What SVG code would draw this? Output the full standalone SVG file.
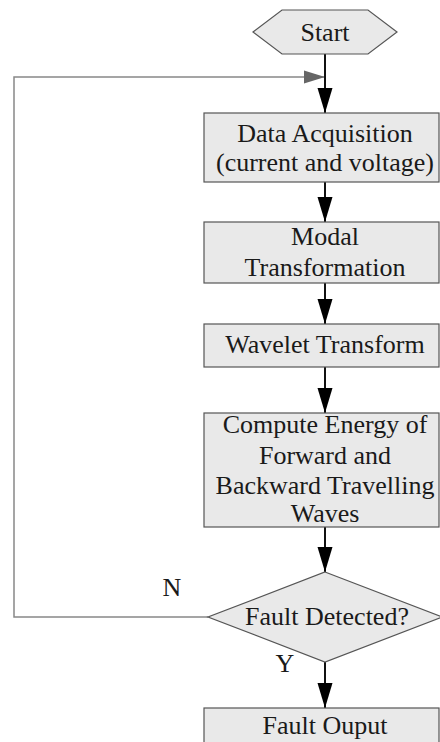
<svg xmlns="http://www.w3.org/2000/svg" width="440" height="742" viewBox="0 0 440 742">
<style>
.box{fill:#e9e9e9;stroke:#555;stroke-width:1.2}
.t{font-family:"Liberation Serif","Times New Roman",serif;font-size:26px;fill:#1a1a1a;text-anchor:middle}
.flow{stroke:#111;stroke-width:2;fill:none}
.arr{marker-end:url(#ah)}
.fb{stroke:#888;stroke-width:1.5;fill:none;marker-end:url(#ahg)}
</style>
<defs>
<marker id="ah" markerUnits="userSpaceOnUse" markerWidth="25" markerHeight="16" refX="25" refY="7.5" orient="auto" viewBox="0 0 25 15">
<path d="M0,0 L25,7.5 L0,15 z" fill="#000"/>
</marker>
<marker id="ahg" markerUnits="userSpaceOnUse" markerWidth="21" markerHeight="14" refX="21" refY="6.5" orient="auto" viewBox="0 0 21 13">
<path d="M0,0 L21,6.5 L0,13 z" fill="#666"/>
</marker>
</defs>
<g id="connectors">
<path class="fb" d="M208,617 L14,617 L14,77 L325,77"/>
<path class="flow" d="M325,54 L325,90"/>
<path class="flow arr" d="M325,80 L325,113"/>
<path class="flow arr" d="M325,182 L325,222"/>
<path class="flow arr" d="M325,283 L325,324"/>
<path class="flow arr" d="M325,367 L325,413"/>
<path class="flow arr" d="M325,527 L325,572"/>
<path class="flow arr" d="M325,662 L325,708"/>
<text class="t" x="172" y="596">N</text>
<text class="t" x="285" y="672">Y</text>
</g>
<g id="start">
<polygon class="box" points="253,32 282,10 368,10 397,32 368,54 282,54"/>
<text class="t" x="325" y="41">Start</text>
</g>
<g id="acq">
<rect class="box" x="204" y="113" width="235" height="69"/>
<text class="t" x="325" y="142">Data Acquisition</text>
<text class="t" x="325" y="171">(current and voltage)</text>
</g>
<g id="modal">
<rect class="box" x="204" y="222" width="235" height="61"/>
<text class="t" x="325" y="245">Modal</text>
<text class="t" x="325" y="276">Transformation</text>
</g>
<g id="wavelet">
<rect class="box" x="204" y="324" width="235" height="43"/>
<text class="t" x="325" y="353">Wavelet Transform</text>
</g>
<g id="energy">
<rect class="box" x="204" y="413" width="235" height="114"/>
<text class="t" x="325" y="433">Compute Energy of</text>
<text class="t" x="325" y="464">Forward and</text>
<text class="t" x="325" y="494">Backward Travelling</text>
<text class="t" x="325" y="522">Waves</text>
</g>
<g id="decision">
<polygon class="box" points="325,572 442,617 325,662 208,617"/>
<text class="t" x="327" y="625">Fault Detected?</text>
</g>
<g id="output">
<rect class="box" x="204" y="708" width="235" height="40"/>
<text class="t" x="325" y="734">Fault Ouput</text>
</g>
</svg>
